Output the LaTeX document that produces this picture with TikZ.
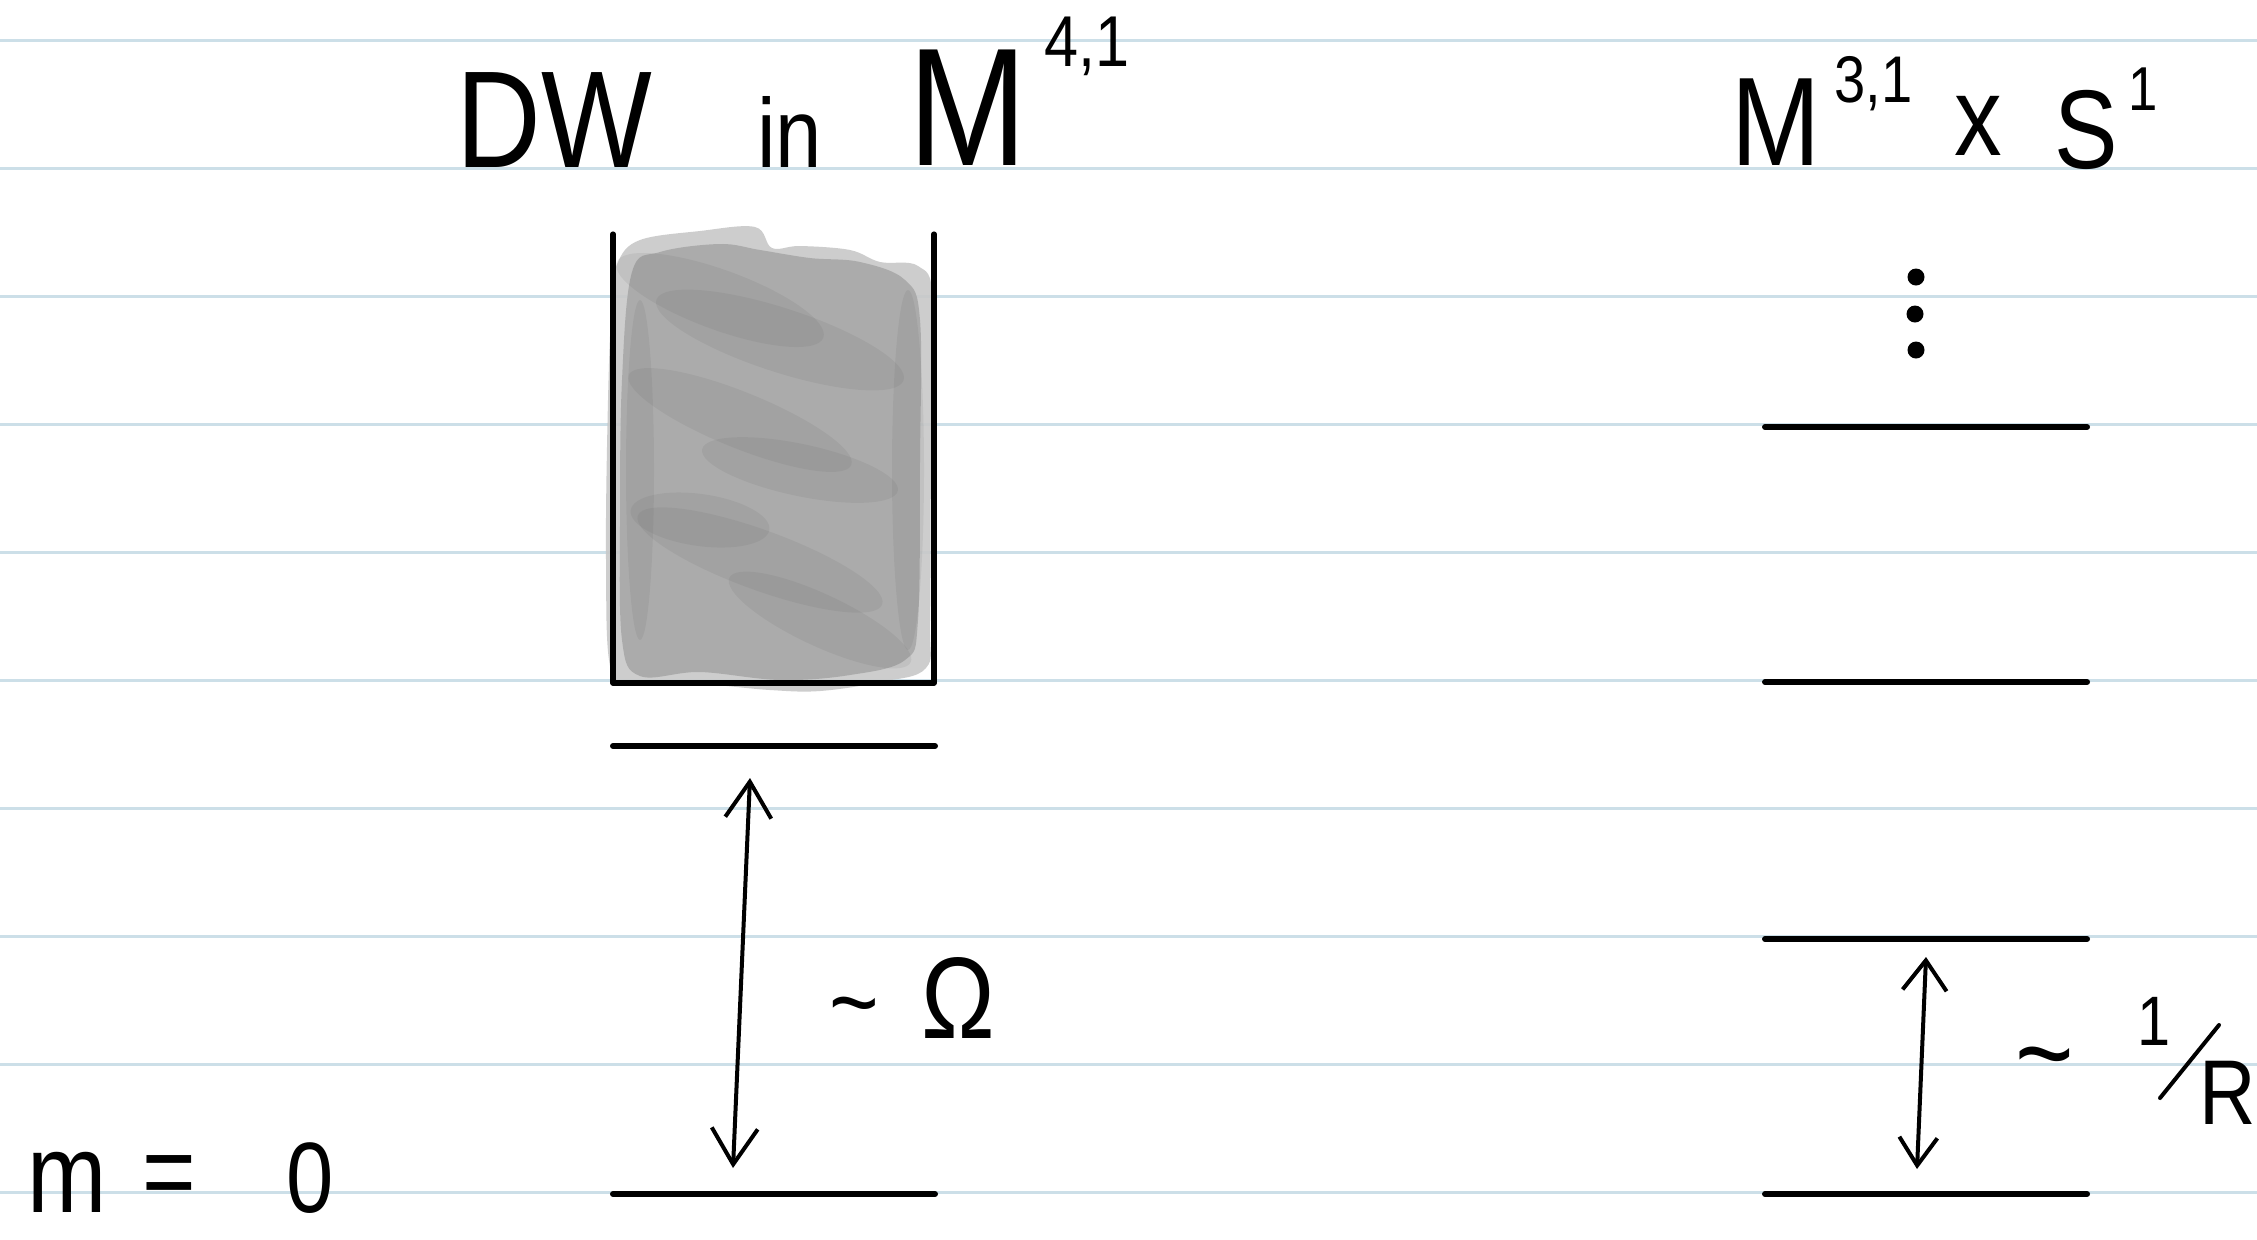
\documentclass[tikz,border=0pt]{standalone}
\usepackage{fontspec}
\setmainfont{Liberation Sans}[FakeStretch=0.85]
\usetikzlibrary{arrows.meta}
\definecolor{rulecol}{HTML}{CCDFE8}
\definecolor{scribA}{HTML}{C8C8C8}
\definecolor{scribB}{HTML}{A6A6A6}
\newcommand{\fsz}[1]{\fontsize{#1pt}{#1pt}\selectfont}
\begin{document}
\begin{tikzpicture}[x=0.5pt,y=-0.5pt,
  ruled/.style={draw=rulecol, line width=1.5pt},
  level/.style={line width=3pt, line cap=round},
  boxline/.style={line width=2.6pt, line cap=round, line join=round},
  gapL/.style={line width=2pt, line cap=round, {Straight Barb[length=18pt,width=23pt,line width=2pt]}-{Straight Barb[length=18pt,width=23pt,line width=2pt]}},
  gapR/.style={line width=2pt, line cap=round, {Straight Barb[length=14pt,width=19pt,line width=2pt]}-{Straight Barb[length=15pt,width=22pt,line width=2pt]}},
  txt/.style={inner sep=0pt, anchor=base west},
  ctxt/.style={inner sep=0pt, anchor=base},
  dot/.style={circle, fill=black, inner sep=0pt, minimum size=8.5pt},
  blob/.style={fill=gray!70!black, opacity=0.10}
]
\useasboundingbox (0,0) rectangle (2257,1239);
\fill[white] (0,0) rectangle (2257,1239);
% ruled paper
\foreach \k in {0,...,9}{
  \draw[ruled] (0,40.5+128*\k) -- (2257,40.5+128*\k);
}
% grey scribble
\fill[scribA, opacity=0.9] plot[smooth cycle, tension=0.6] coordinates {
  (618,262) (640,240) (700,231) (755,227) (772,248) (800,246) (850,250) (880,262) (918,266)
  (933,300) (931,450) (930,620) (926,668) (880,682) (820,691) (770,690) (700,684) (640,685)
  (611,670) (606,560) (608,400) (612,300)};
\fill[scribB, opacity=0.85] plot[smooth cycle, tension=0.6] coordinates {
  (632,272) (660,252) (720,244) (760,250) (810,258) (860,262) (905,280)
  (920,320) (920,460) (918,620) (905,660) (850,675) (780,680) (700,672) (640,676)
  (622,640) (620,520) (622,380)};
\fill[blob, rotate around={-20:(720,300)}] (720,300) ellipse [x radius=110, y radius=30];
\fill[blob, rotate around={-18:(780,340)}] (780,340) ellipse [x radius=130, y radius=32];
\fill[blob, rotate around={-22:(740,420)}] (740,420) ellipse [x radius=120, y radius=28];
\fill[blob, rotate around={-12:(800,470)}] (800,470) ellipse [x radius=100, y radius=26];
\fill[blob, rotate around={-20:(760,560)}] (760,560) ellipse [x radius=130, y radius=30];
\fill[blob, rotate around={-8:(700,520)}] (700,520) ellipse [x radius=70, y radius=26];
\fill[blob, rotate around={-25:(820,620)}] (820,620) ellipse [x radius=100, y radius=26];
\fill[blob] (908,470) ellipse [x radius=16, y radius=180];
\fill[blob] (640,470) ellipse [x radius=14, y radius=170];
% box
\draw[boxline] (613,234) -- (613,683) -- (934,683) -- (934,234);
% levels (left)
\coordinate (L1a) at (613,746); \coordinate (L1b) at (935,746);
\coordinate (L0a) at (613,1194); \coordinate (L0b) at (935,1194);
\draw[level] (L1a) -- (L1b);
\draw[level] (L0a) -- (L0b);
% levels (right)
\coordinate (R3a) at (1765,427); \coordinate (R3b) at (2087,427);
\coordinate (R2a) at (1765,682); \coordinate (R2b) at (2087,682);
\coordinate (R1a) at (1765,939); \coordinate (R1b) at (2087,939);
\coordinate (R0a) at (1765,1194); \coordinate (R0b) at (2087,1194);
\draw[level] (R3a) -- (R3b);
\draw[level] (R2a) -- (R2b);
\draw[level] (R1a) -- (R1b);
\draw[level] (R0a) -- (R0b);
% dots
\node[dot] (d1) at (1916,277) {};
\node[dot] (d2) at (1915,314) {};
\node[dot] (d3) at (1916,350) {};
% arrows
\coordinate (aLt) at (750,778); \coordinate (aLb) at (733,1168);
\draw[gapL] (aLb) -- (aLt);
\coordinate (aRt) at (1926,957); \coordinate (aRb) at (1917,1169);
\draw[gapR] (aRb) -- (aRt);
% titles
\node[txt, font=\fsz{69}] (dw) at (456,167) {DW};
\node[txt, font=\fsz{49}] (in) at (757,167) {in};
\node[txt, font=\fsz{84}] (m4) at (908,165) {M};
\node[txt, font=\fsz{36}] (sup4) at (1044,66) {4,1};
\node[txt, font=\fsz{63}] (m3) at (1731,165) {M};
\node[txt, font=\fsz{33}] (sup3) at (1834,102) {3,1};
\node[txt, font=\fsz{56}] (xx) at (1954,155) {x};
\node[txt, font=\fsz{56}] (ss) at (2054,168) {S};
\node[txt, font=\fsz{31}] (sup1) at (2128,110) {1};
% gap labels
\node[ctxt, font=\fsz{50}] (tl) at (854,1036) {\textasciitilde};
\node[ctxt, font=\fsz{58}] (om) at (958,1038) {Ω};
\node[ctxt, font=\fsz{59}] (tr) at (2045,1093) {\textasciitilde};
\node[ctxt, font=\fsz{35}] (one) at (2154,1045) {1};
\draw[line width=2pt, line cap=round] (2160,1098) -- (2219,1025);
\node[ctxt, font=\fsz{46}] (rr) at (2228,1124) {R};
% m = 0
\node[txt, font=\fsz{56}] (mm) at (27,1212) {m};
\node[txt, font=\fsz{54}] (eq) at (142,1208) {=};
\node[txt, font=\fsz{50}] (zero) at (286,1212) {0};
\end{tikzpicture}
\end{document}
